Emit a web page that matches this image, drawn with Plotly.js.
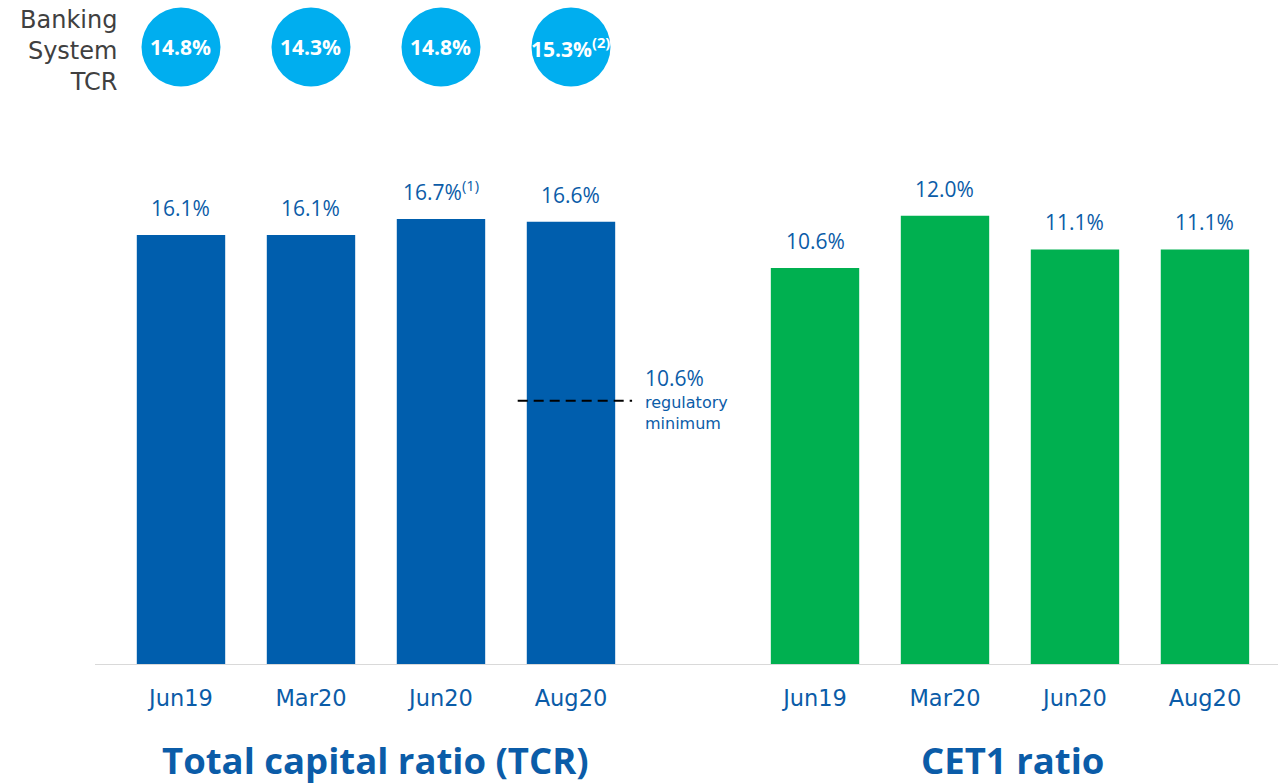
<!DOCTYPE html>
<html>
<head>
<meta charset="utf-8">
<script src="https://cdn.plot.ly/plotly-3.0.1.min.js"></script>
<style>html,body{margin:0;padding:0;background:#fff;}#chart{width:1278px;height:784px;}</style>
</head>
<body>
<div id="chart"></div>
<script>
// ---- data ----
const periods = ["Jun19", "Mar20", "Jun20", "Aug20"];
const tcrValues = [16.1, 16.1, 16.7, 16.6];
const tcrNotes = ["", "", "(1)", ""];
const cet1Values = [10.6, 12.0, 11.1, 11.1];
const systemTcr = [14.8, 14.3, 14.8, 15.3];
const systemNotes = ["", "", "", "(2)"];
const regMinimum = 10.6;
const regLineLevel = 9.9; // where the dashed marker is drawn in the picture

const FONT = "Open Sans, sans-serif";
const WIDE = "DejaVu Sans, sans-serif";
const BLUE = "#005EAD";
const TXT = "#0B5CA8";
const GREEN = "#00B050";
const CIRCLE = "#00AEEF";
const CY = 1.0938; // paper y of the circle row

const traces = [
  {type: "bar", x: periods, y: tcrValues, xaxis: "x", yaxis: "y",
   marker: {color: BLUE}, width: 0.68, hoverinfo: "skip"},
  {type: "bar", x: periods, y: cet1Values, xaxis: "x2", yaxis: "y2",
   marker: {color: GREEN}, width: 0.68, hoverinfo: "skip"}
];

const annotations = [];
const shapes = [];

periods.forEach((p, i) => {
  annotations.push({x: p, y: tcrValues[i], xref: "x", yref: "y", xanchor: "center", yanchor: "bottom",
    yshift: 11, showarrow: false,
    text: tcrValues[i].toFixed(1) + "%" + (tcrNotes[i] ? "<sup style='font-size:13px'>" + tcrNotes[i] + "</sup>" : ""),
    font: {family: FONT, size: 21, color: TXT}});
  annotations.push({x: p, y: cet1Values[i], xref: "x2", yref: "y2", xanchor: "center", yanchor: "bottom",
    yshift: 11, showarrow: false,
    text: cet1Values[i].toFixed(1) + "%",
    font: {family: FONT, size: 21, color: TXT}});
  // banking system circles
  shapes.push({type: "circle", xref: "x", yref: "paper", xsizemode: "pixel", ysizemode: "pixel",
    xanchor: p, yanchor: CY, x0: -39.5, x1: 39.5, y0: -39.5, y1: 39.5,
    fillcolor: CIRCLE, line: {width: 0}});
  annotations.push({x: p, y: CY, xref: "x", yref: "paper", xanchor: "center", yanchor: "middle", showarrow: false,
    text: "<b>" + systemTcr[i].toFixed(1) + "%" + (systemNotes[i] ? "<sup style='font-size:13px'>" + systemNotes[i] + "</sup>" : "") + "</b>",
    font: {family: FONT, size: 21, color: "#ffffff"}});
});

annotations.push({x: 0.0203, y: CY - 0.007, xref: "paper", yref: "paper", xanchor: "right", yanchor: "middle",
  align: "right", showarrow: false, text: "Banking<br>System<br>TCR",
  font: {family: WIDE, size: 24, color: "#404040"}});

// regulatory minimum
shapes.push({type: "line", xref: "x", yref: "y", x0: 2.59, x1: 3.47, y0: regLineLevel, y1: regLineLevel,
  line: {color: "#000", width: 2, dash: "10px,6px"}});
annotations.push({x: 0.4632, y: regLineLevel, xref: "paper", yref: "y", xanchor: "left", yanchor: "bottom",
  yshift: 7, showarrow: false, text: regMinimum.toFixed(1) + "%",
  font: {family: FONT, size: 21, color: TXT}});
annotations.push({x: 0.4632, y: regLineLevel, xref: "paper", yref: "y", xanchor: "left", yanchor: "top",
  yshift: 10, align: "left", showarrow: false, text: "regulatory<br>minimum",
  font: {family: WIDE, size: 16, color: TXT}});

// baseline
shapes.push({type: "line", xref: "paper", yref: "y", x0: 0, x1: 1, y0: 0, y1: 0,
  line: {color: "#D9D9D9", width: 2}});

// group titles
annotations.push({x: 0.2375, y: -0.168, xref: "paper", yref: "paper", xanchor: "center", yanchor: "middle",
  showarrow: false, text: "<b>Total capital ratio (TCR)</b>", font: {family: FONT, size: 36.5, color: TXT}});
annotations.push({x: 0.7755, y: -0.168, xref: "paper", yref: "paper", xanchor: "center", yanchor: "middle",
  showarrow: false, text: "<b>CET1 ratio</b>", font: {family: FONT, size: 36.5, color: TXT}});

const axisX = {type: "category", range: [-0.5, 3.5], showgrid: false, zeroline: false, showline: false,
  ticks: "", tickfont: {family: WIDE, size: 22.5, color: TXT}, ticklabelstandoff: 17, fixedrange: true};
const axisY = {showgrid: false, zeroline: false, showline: false, showticklabels: false, ticks: "", fixedrange: true};

const layout = {
  width: 1278, height: 784,
  margin: {l: 95, r: 0, t: 100, b: 119},
  paper_bgcolor: "#fff", plot_bgcolor: "#fff",
  showlegend: false,
  xaxis: Object.assign({}, axisX, {domain: [0.01775, 0.4573]}),
  xaxis2: Object.assign({}, axisX, {domain: [0.5537, 0.9932], anchor: "y2"}),
  yaxis: Object.assign({}, axisY, {range: [0, 21.16]}),
  yaxis2: Object.assign({}, axisY, {range: [0, 15.09], anchor: "x2"}),
  shapes: shapes,
  annotations: annotations
};

Plotly.newPlot("chart", traces, layout, {displayModeBar: false, staticPlot: true});
</script>
</body>
</html>
